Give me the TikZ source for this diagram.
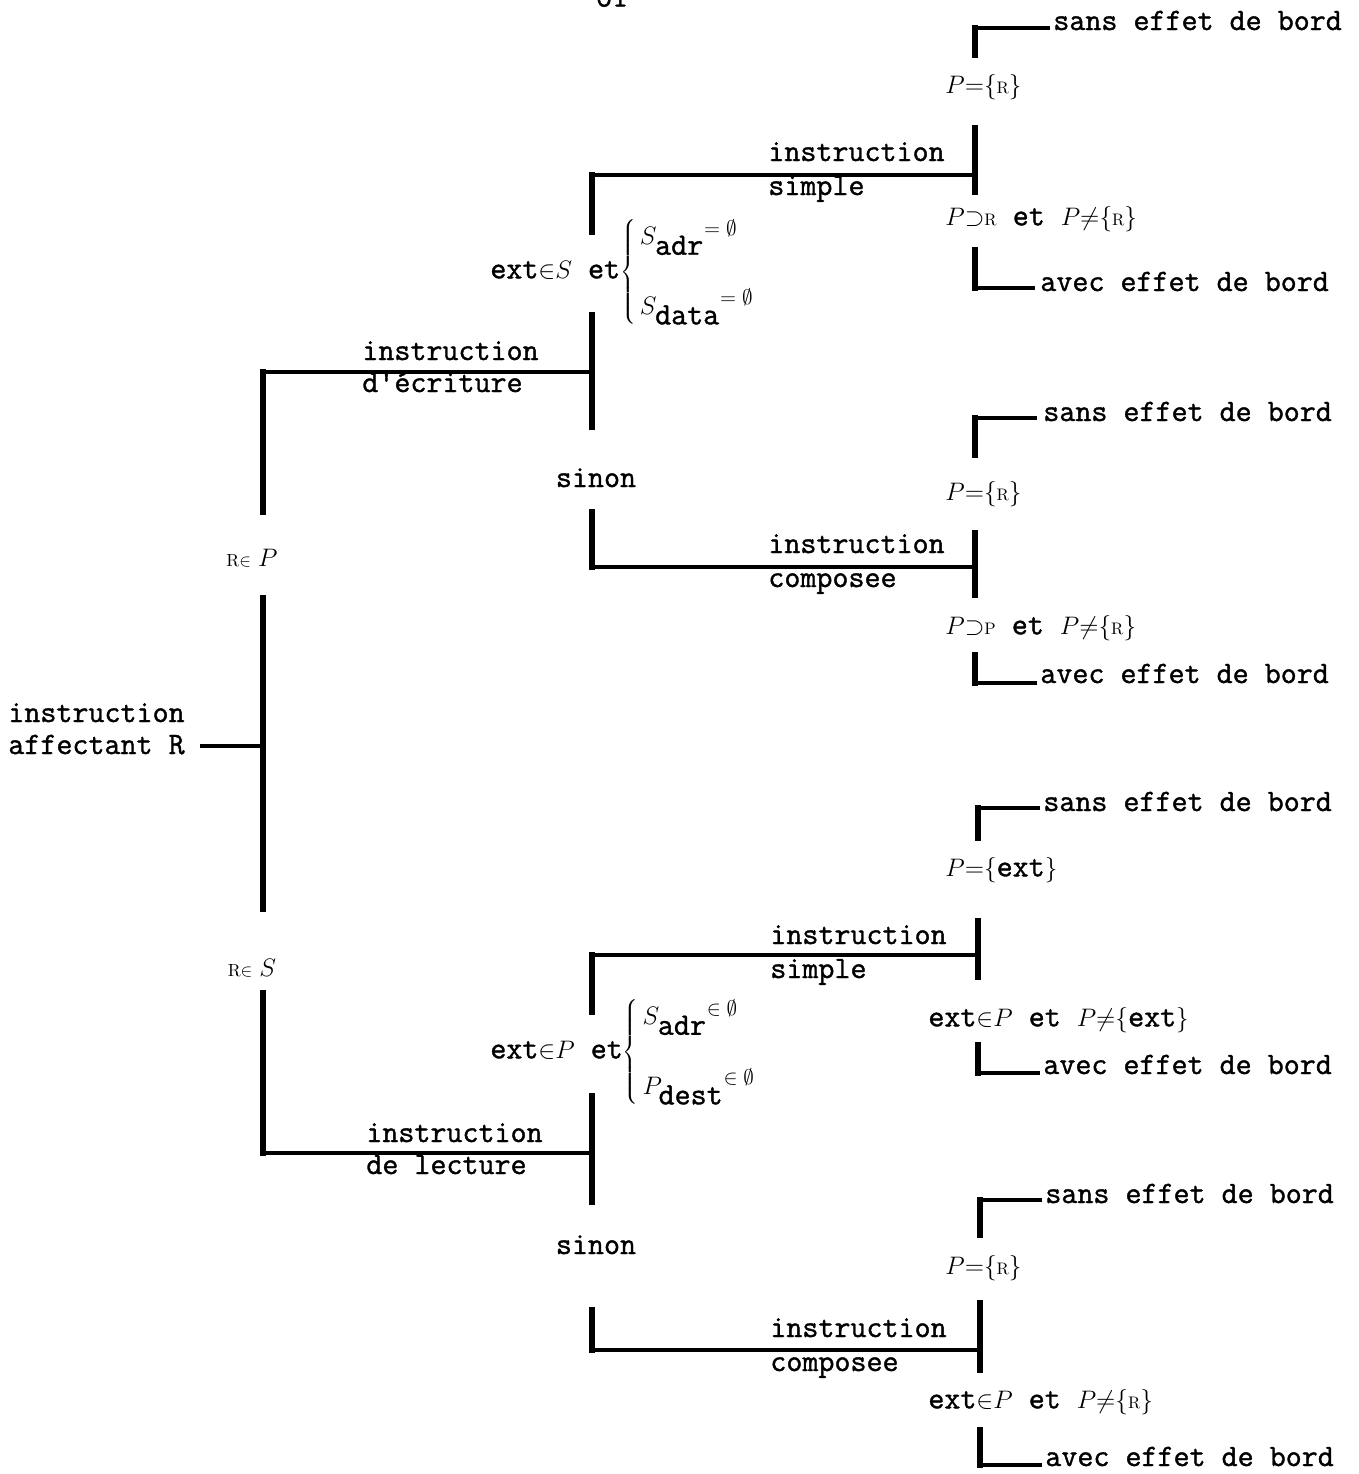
\documentclass[tikz,border=0pt]{standalone}
\usepackage{fontspec}
\setmonofont[Scale=1.23,FakeBold=1.2]{Latin Modern Mono}
\newcommand\smR{{\rmfamily\fontsize{9.5}{10}\selectfont R}}
\newcommand\smP{{\rmfamily\fontsize{9.5}{10}\selectfont P}}
\newcommand\supq[1]{\mbox{\fontsize{12}{12}\selectfont$#1\emptyset$}}
\begin{document}
\begin{tikzpicture}[x=0.02cm,y=-0.02cm,
  font=\fontsize{14.4}{18}\selectfont\ttfamily,
  br/.style={line width=3pt},
  hl/.style={line width=1.8pt},
  lbl/.style={inner sep=0pt,anchor=base west,yshift=-0.16cm},
  mlbl/.style={inner sep=0pt,anchor=west}]
\useasboundingbox (0,0) rectangle (1359,1474);
\clip (0,0) rectangle (1359,1474);
\node[font=\fontsize{14.4}{18}\selectfont\ttfamily\bfseries] (pg) at (612,-3) {-61-};

% root
\node[lbl] (r1) at (8,714) {instruction};
\node[lbl] (r2) at (8,746) {affectant R};
\coordinate (rootE) at (200,746);
\coordinate (rootJ) at (263,746);
\draw[hl] (rootE) -- (rootJ);

\node (RP) at (252,558) {$\scriptstyle\mathrm{R}\in\textstyle P$};
\node (RS) at (252,968) {$\scriptstyle\mathrm{R}\in\textstyle S$};

% main bracket
\coordinate (mTop) at (263,372);
\coordinate (mA) at (263,512);
\coordinate (mB) at (263,595);
\coordinate (mC) at (263,912);
\coordinate (mD) at (263,993);
\coordinate (mBot) at (263,1153);
\coordinate (wJ) at (592,372);
\coordinate (rJ) at (592,1153);
\draw[hl] (wJ) -- (mTop);
\draw[br,line cap=rect] (mTop) -- (mA);
\draw[br] (mB) -- (mC);
\draw[br,line cap=rect] (mD) -- (mBot);
\draw[hl] (mBot) -- (rJ);
\node[lbl] (iw1) at (362,352) {instruction};
\node[lbl] (iw2) at (362,384) {d'écriture};
\node[lbl] (ir1) at (366,1134) {instruction};
\node[lbl] (ir2) at (366,1166) {de lecture};

% write branch
\coordinate (w1) at (592,232);
\coordinate (w0) at (592,175);
\coordinate (ws) at (975,175);
\coordinate (w2) at (592,312);
\coordinate (w3) at (592,430);
\coordinate (w4) at (592,512);
\coordinate (w5) at (592,567);
\coordinate (wc) at (975,567);
\draw[br,line cap=rect] (w1) -- (w0);
\draw[hl] (w0) -- (ws);
\draw[br] (w2) -- (w3);
\draw[br,line cap=rect] (w4) -- (w5);
\draw[hl] (w5) -- (wc);
\node[mlbl] (cw) at (490,272) {ext$\in$$S$ et$\left\{\begin{array}{@{\,}l@{}}S_{\mbox{\ttfamily adr}}{}^{\supq{=}}\\[20pt] S_{\mbox{\ttfamily data}}{}^{\supq{=}}\end{array}\right.$};
\node[lbl,anchor=base] (sw) at (596,479) {sinon};
\node[lbl] (isw1) at (768,153) {instruction};
\node[lbl] (isw2) at (768,187) {simple};
\node[lbl] (icw1) at (768,545) {instruction};
\node[lbl] (icw2) at (768,579) {composee};

% read branch
\coordinate (q1) at (592,1012);
\coordinate (q0) at (592,955);
\coordinate (qs) at (978,955);
\coordinate (q2) at (592,1093);
\coordinate (q3) at (592,1205);
\coordinate (q4) at (592,1310);
\coordinate (q5) at (592,1350);
\coordinate (qc) at (980,1350);
\draw[br,line cap=rect] (q1) -- (q0);
\draw[hl] (q0) -- (qs);
\draw[br] (q2) -- (q3);
\draw[br,line cap=rect] (q4) -- (q5);
\draw[hl] (q5) -- (qc);
\node[mlbl] (cr) at (490,1052) {ext$\in$$P$ et$\left\{\begin{array}{@{\,}l@{}}S_{\mbox{\ttfamily adr}}{}^{\supq{\in}}\\[20pt] P_{\mbox{\ttfamily dest}}{}^{\supq{\in}}\end{array}\right.$};
\node[lbl,anchor=base] (sr) at (596,1246) {sinon};
\node[lbl] (isr1) at (770,936) {instruction};
\node[lbl] (isr2) at (770,970) {simple};
\node[lbl] (icr1) at (770,1329) {instruction};
\node[lbl] (icr2) at (770,1363) {composee};

% block 1
\draw[br,line cap=rect] (975,55) coordinate (a1) -- (975,28) coordinate (a2);
\draw[hl] (a2) -- (1050,28) coordinate (a3);
\node[lbl] (s1) at (1053,22) {sans effet de bord};
\node[mlbl] (p1) at (945,87) {$P{=}\{$\smR$\}$};
\draw[br] (975,125) coordinate (a4) -- (975,195) coordinate (a5);
\node[mlbl] (n1) at (945,219) {$P{\supset}$\smR{} et $P{\neq}\{$\smR$\}$};
\draw[br,line cap=rect] (975,250) coordinate (a6) -- (975,288) coordinate (a7);
\draw[hl] (a7) -- (1035,288) coordinate (a8);
\node[lbl] (e1) at (1040,283) {avec effet de bord};

% block 2
\draw[br,line cap=rect] (975,455) coordinate (b1) -- (975,418) coordinate (b2);
\draw[hl] (b2) -- (1037,418) coordinate (b3);
\node[lbl] (s2) at (1043,413) {sans effet de bord};
\node[mlbl] (p2) at (945,494) {$P{=}\{$\smR$\}$};
\draw[br] (975,530) coordinate (b4) -- (975,598) coordinate (b5);
\node[mlbl] (n2) at (945,628) {$P{\supset}$\smP{} et $P{\neq}\{$\smR$\}$};
\draw[br,line cap=rect] (975,655) coordinate (b6) -- (975,683) coordinate (b7);
\draw[hl] (b7) -- (1037,683) coordinate (b8);
\node[lbl] (e2) at (1040,675) {avec effet de bord};

% block 3
\draw[br,line cap=rect] (978,838) coordinate (c1) -- (978,808) coordinate (c2);
\draw[hl] (c2) -- (1040,808) coordinate (c3);
\node[lbl] (s3) at (1043,803) {sans effet de bord};
\node[mlbl] (p3) at (945,870) {$P{=}\{$ext$\}$};
\draw[br] (978,918) coordinate (c4) -- (978,980) coordinate (c5);
\node[mlbl] (n3) at (928,1020) {ext$\in$$P$ et $P{\neq}\{$ext$\}$};
\draw[br,line cap=rect] (978,1045) coordinate (c6) -- (978,1073) coordinate (c7);
\draw[hl] (c7) -- (1040,1073) coordinate (c8);
\node[lbl] (e3) at (1043,1066) {avec effet de bord};

% block 4
\draw[br,line cap=rect] (980,1235) coordinate (d1) -- (980,1200) coordinate (d2);
\draw[hl] (d2) -- (1042,1200) coordinate (d3);
\node[lbl] (s4) at (1045,1195) {sans effet de bord};
\node[mlbl] (p4) at (945,1268) {$P{=}\{$\smR$\}$};
\draw[br] (980,1300) coordinate (d4) -- (980,1373) coordinate (d5);
\node[mlbl] (n4) at (928,1402) {ext$\in$$P$ et $P{\neq}\{$\smR$\}$};
\draw[br,line cap=rect] (980,1430) coordinate (d6) -- (980,1465) coordinate (d7);
\draw[hl] (d7) -- (1042,1465) coordinate (d8);
\node[lbl] (e4) at (1045,1458) {avec effet de bord};
\end{tikzpicture}
\end{document}
